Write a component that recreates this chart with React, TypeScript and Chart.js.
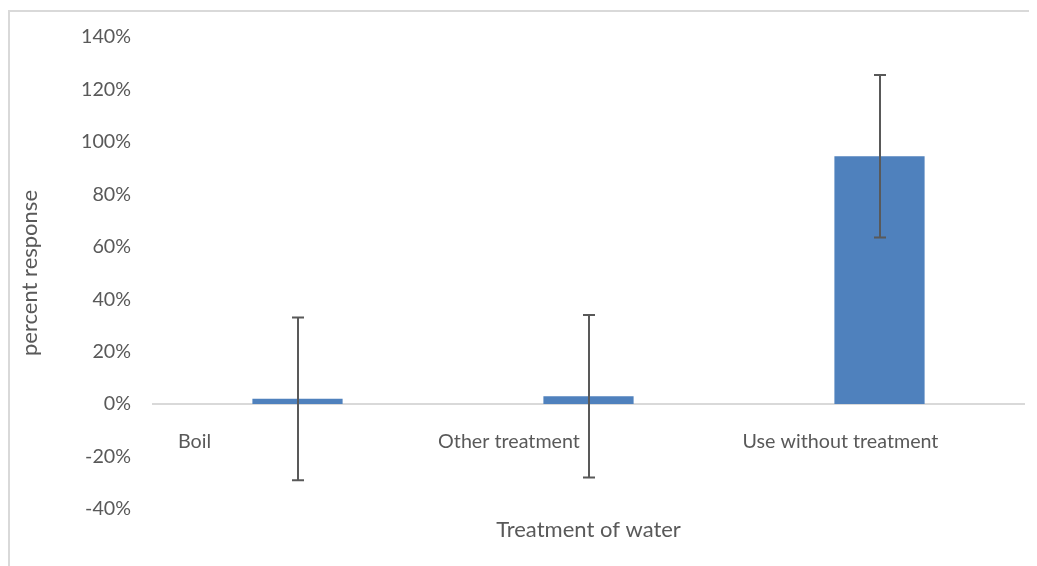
import React, { useEffect, useRef } from "react";
import { Chart, registerables } from "chart.js";

Chart.register(...registerables);

const categories = ["Boil", "Other treatment", "Use without treatment"];
const values = [0.02, 0.03, 0.945];
const errors = [0.31, 0.31, 0.31];
const yTicks = { min: -0.4, max: 1.4, step: 0.2 };

// layout-only: horizontal offset of each category label from its category centre
const labelShift = [-103, -79.5, -39];

const FONT = "Lato, 'Open Sans', sans-serif";
const TEXT = "#595959";

const extrasPlugin = {
  id: "extras",
  afterDatasetsDraw(chart: any) {
    const { ctx, scales } = chart;
    const y = scales.y;
    const meta = chart.getDatasetMeta(0);
    ctx.save();
    ctx.strokeStyle = "#595959";
    ctx.lineWidth = 2;
    meta.data.forEach((bar: any, i: number) => {
      const x = Math.round(bar.x);
      const top = y.getPixelForValue(values[i] + errors[i]);
      const bot = y.getPixelForValue(values[i] - errors[i]);
      ctx.beginPath();
      ctx.moveTo(x, top);
      ctx.lineTo(x, bot);
      ctx.moveTo(x - 6, top);
      ctx.lineTo(x + 6, top);
      ctx.moveTo(x - 6, bot);
      ctx.lineTo(x + 6, bot);
      ctx.stroke();
    });
    ctx.fillStyle = TEXT;
    ctx.font = `19.7px ${FONT}`;
    ctx.textAlign = "center";
    ctx.textBaseline = "middle";
    const zero = y.getPixelForValue(0);
    categories.forEach((c, i) => {
      const cx = scales.x.getPixelForValue(i) + labelShift[i];
      ctx.fillText(c, cx, zero + 38);
    });
    ctx.restore();
  },
};

export default function App() {
  const ref = useRef<HTMLCanvasElement>(null);
  useEffect(() => {
    if (!ref.current) return;
    const chart = new Chart(ref.current, {
      type: "bar",
      data: {
        labels: categories,
        datasets: [
          {
            data: values,
            backgroundColor: "#4f81bd",
            borderWidth: 0,
            categoryPercentage: 1,
            barPercentage: 0.31,
          },
        ],
      },
      options: {
        animation: false,
        responsive: false,
        maintainAspectRatio: false,
        layout: { padding: { top: 25, right: 12, bottom: 22.8, left: 0 } },
        plugins: { legend: { display: false }, tooltip: { enabled: false } },
        scales: {
          x: {
            grid: { display: false, drawTicks: false },
            border: { display: false },
            ticks: { display: false },
            title: {
              display: true,
              text: "Treatment of water",
              color: TEXT,
              font: { family: FONT, size: 22 },
              padding: { top: 7.8, bottom: 0 },
            },
          },
          y: {
            min: yTicks.min,
            max: yTicks.max,
            afterFit: (s: any) => {
              s.width = 142;
              s.paddingTop = 0;
              s.paddingBottom = 0;
            },
            border: { display: false },
            grid: {
              drawTicks: false,
              lineWidth: 2,
              color: (c: any) =>
                c.tick && Math.abs(c.tick.value) < 1e-9 ? "#d9d9d9" : "rgba(0,0,0,0)",
            },
            ticks: {
              stepSize: yTicks.step,
              padding: 21,
              color: TEXT,
              font: { family: FONT, size: 19.7 },
              callback: (v: any) => `${Math.round(Number(v) * 100)}%`,
            },
            title: {
              display: true,
              text: "percent response",
              color: TEXT,
              font: { family: FONT, size: 22 },
              padding: { top: 6.8, bottom: 0 },
            },
          },
        },
      },
      plugins: [extrasPlugin],
    });
    return () => chart.destroy();
  }, []);
  return (
    <div style={{ paddingTop: 2 }}>
      <div
        style={{
          width: 1029,
          height: 556,
          borderTop: "2px solid #d9d9d9",
          borderLeft: "2px solid #d9d9d9",
          boxSizing: "border-box",
          overflow: "hidden",
        }}
      >
        <canvas ref={ref} width={1027} height={554} style={{ display: "block" }} />
      </div>
    </div>
  );
}
